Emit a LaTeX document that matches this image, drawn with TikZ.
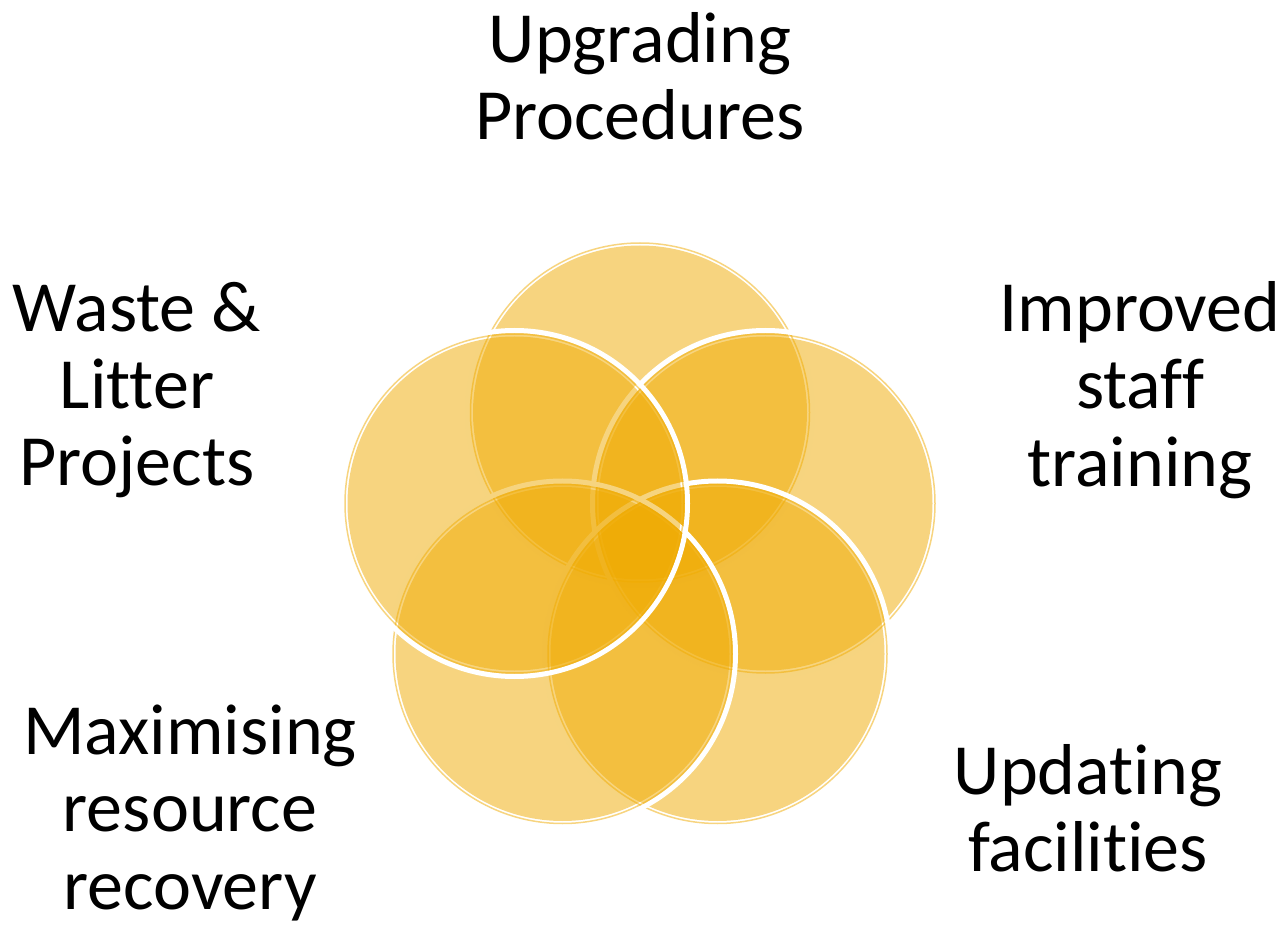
\documentclass[tikz,border=0pt]{standalone}
\usepackage{fontspec}
\setmainfont{Carlito}[Ligatures={NoCommon,NoRare,NoContextual},RawFeature={-liga;-clig;-dlig}]
\definecolor{petal}{RGB}{239,170,0}
\begin{document}
\begin{tikzpicture}[
			label/.style={align=center,inner sep=0pt,font=\fontsize{41}{44}\selectfont},
			petalfill/.style={fill=petal,fill opacity=.5},
			petalring/.style={draw=white,line width=0.1cm}
		]
		\useasboundingbox (0,0) rectangle (25.74,18.52);
		% circle centres, drawn clockwise from the top
		\coordinate (up) at (12.8,10.27);
		\coordinate (rt) at (15.31,8.45);
		\coordinate (br) at (14.35,5.44);
		\coordinate (bl) at (11.25,5.44);
		\coordinate (lt) at (10.29,8.45);
		\foreach \c in {up,rt,br,bl,lt} {
				\fill[petalfill] (\c) circle (3.34);
				\draw[petalring] (\c) circle (3.46);
				\draw[petal,draw opacity=.5,line width=0.03cm] (\c) circle (3.39);
			}
		\node[label] (upg) at (12.8,17.0) {Upgrading\\Procedures};
		\node[label] (waste) at (2.74,10.72) {Waste \&\\Litter\\Projects};
		\node[label] (staff) at (22.8,10.72) {Improved\\staff\\training};
		\node[label] (recov) at (3.8,2.26) {Maximising\\resource\\recovery};
		\node[label] (facil) at (21.76,2.36) {Updating\\facilities};
	\end{tikzpicture}
\end{document}
